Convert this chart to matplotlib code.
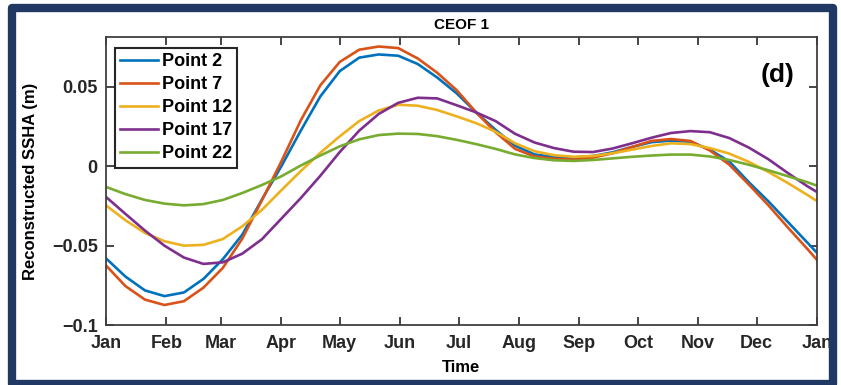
import matplotlib
matplotlib.use("Agg")
import matplotlib.pyplot as plt
from matplotlib.patches import Rectangle

plt.rcParams['font.family'] = ['Liberation Sans', 'DejaVu Sans']
plt.rcParams['font.weight'] = 'bold'

# day of year for each sample (every 10 days)
days = [0, 10, 20, 30, 40, 50, 60, 70, 80, 90, 100, 110, 120, 130, 140, 150, 160,
        170, 180, 190, 200, 210, 220, 230, 240, 250, 260, 270, 280, 290, 300, 310,
        320, 330, 340, 350, 360, 365]

point2 = [-0.058, -0.0695, -0.0782, -0.0818, -0.0795, -0.071, -0.0585, -0.043, -0.021,
          0.000, 0.0225, 0.044, 0.060, 0.0685, 0.0705, 0.0697, 0.0645, 0.056, 0.046,
          0.034, 0.023, 0.013, 0.0075, 0.0058, 0.0055, 0.0065, 0.0088, 0.0122, 0.0152,
          0.0162, 0.0155, 0.0105, 0.003, -0.010, -0.022, -0.035, -0.048, -0.0545]
point7 = [-0.0625, -0.0755, -0.084, -0.0874, -0.085, -0.0765, -0.064, -0.0455, -0.0215,
          0.003, 0.029, 0.051, 0.0658, 0.0735, 0.0755, 0.0745, 0.068, 0.059, 0.048,
          0.034, 0.0215, 0.011, 0.0062, 0.0048, 0.0042, 0.0055, 0.0082, 0.0122, 0.016,
          0.0172, 0.016, 0.010, 0.001, -0.0115, -0.0245, -0.0385, -0.052, -0.059]
point12 = [-0.0246, -0.034, -0.042, -0.0472, -0.050, -0.0495, -0.0458, -0.0378, -0.0275,
           -0.0151, -0.003, 0.0085, 0.0189, 0.0285, 0.0352, 0.0388, 0.0382, 0.0355,
           0.0315, 0.0272, 0.0218, 0.0145, 0.0095, 0.007, 0.006, 0.0065, 0.0082, 0.0105,
           0.0128, 0.0145, 0.014, 0.0115, 0.008, 0.0028, -0.0035, -0.0105, -0.018, -0.0219]
point17 = [-0.0193, -0.030, -0.0405, -0.050, -0.0575, -0.0615, -0.0605, -0.055, -0.046,
           -0.033, -0.020, -0.006, 0.009, 0.0225, 0.033, 0.040, 0.0432, 0.0428, 0.0385,
           0.034, 0.0285, 0.0205, 0.015, 0.0115, 0.0092, 0.009, 0.0112, 0.0145, 0.018,
           0.021, 0.0222, 0.0215, 0.0178, 0.0118, 0.0045, -0.0042, -0.0125, -0.0162]
point22 = [-0.013, -0.0175, -0.0212, -0.0235, -0.0246, -0.0238, -0.0212, -0.0168, -0.0118,
           -0.0063, 0.0005, 0.0068, 0.0126, 0.017, 0.0197, 0.0206, 0.0204, 0.019, 0.0167,
           0.014, 0.011, 0.0075, 0.0052, 0.0038, 0.0034, 0.004, 0.005, 0.006, 0.0068,
           0.0074, 0.0074, 0.0062, 0.004, 0.001, -0.0025, -0.0062, -0.010, -0.0122]

series = [("Point 2", point2, "#0072BD"),
          ("Point 7", point7, "#D95319"),
          ("Point 12", point12, "#EDB120"),
          ("Point 17", point17, "#7E2F8E"),
          ("Point 22", point22, "#77AC30")]

month_days = [0, 31, 59, 90, 120, 151, 181, 212, 243, 273, 304, 334, 365]
month_labels = ["Jan", "Feb", "Mar", "Apr", "May", "Jun", "Jul",
                "Aug", "Sep", "Oct", "Nov", "Dec", "Jan"]
ytick_vals = [-0.1, -0.05, 0, 0.05]
ytick_labels = ["\u22120.1", "\u22120.05", "0", "0.05"]

fig = plt.figure(figsize=(8.41, 3.85), dpi=100)
ax = fig.add_axes([106 / 841, 60 / 385, 711 / 841, 288 / 385])

for name, vals, col in series:
    ax.plot(days, vals, color=col, lw=1.9, label=name)

ax.set_xlim(0, 365)
ax.set_ylim(-0.1, 0.0815)
ax.set_xticks(month_days)
ax.set_xticklabels(month_labels)
ax.set_yticks(ytick_vals)
ax.set_yticklabels(ytick_labels)
ax.tick_params(direction="in", top=True, right=True, length=6, width=1.2,
               labelsize=13, colors="#262626")
ax.tick_params(axis="x", pad=7)
ax.tick_params(axis="y", pad=6)
for s in ax.spines.values():
    s.set_linewidth(1.3)
    s.set_color("#404040")

ax.set_title("CEOF 1", fontsize=11, fontweight="bold", pad=6)
ax.set_xlabel("Time", fontsize=12, fontweight="bold", labelpad=6)
ax.set_ylabel("Reconstructed SSHA (m)", fontsize=12, fontweight="bold", labelpad=10)
ax.text(0.944, 0.868, "(d)", transform=ax.transAxes, fontsize=19,
        fontweight="bold", ha="center", va="center")

leg = ax.legend(loc="upper left", bbox_to_anchor=(115 / 841, 1 - 48 / 385),
                bbox_transform=fig.transFigure, fontsize=13, handlelength=2.1,
                handletextpad=0.2, labelspacing=0.33, borderpad=0.3,
                borderaxespad=0, fancybox=False, framealpha=1)
leg.get_frame().set_edgecolor("#262626")
leg.get_frame().set_linewidth(1.5)

# dark navy frame around the whole picture
fig.add_artist(Rectangle((12 / 841, 1 / 385), 821 / 841, 376.5 / 385,
                         transform=fig.transFigure, fill=False,
                         edgecolor="#1F3864", linewidth=6, joinstyle="round"))

fig.savefig("out.png", dpi=100)
